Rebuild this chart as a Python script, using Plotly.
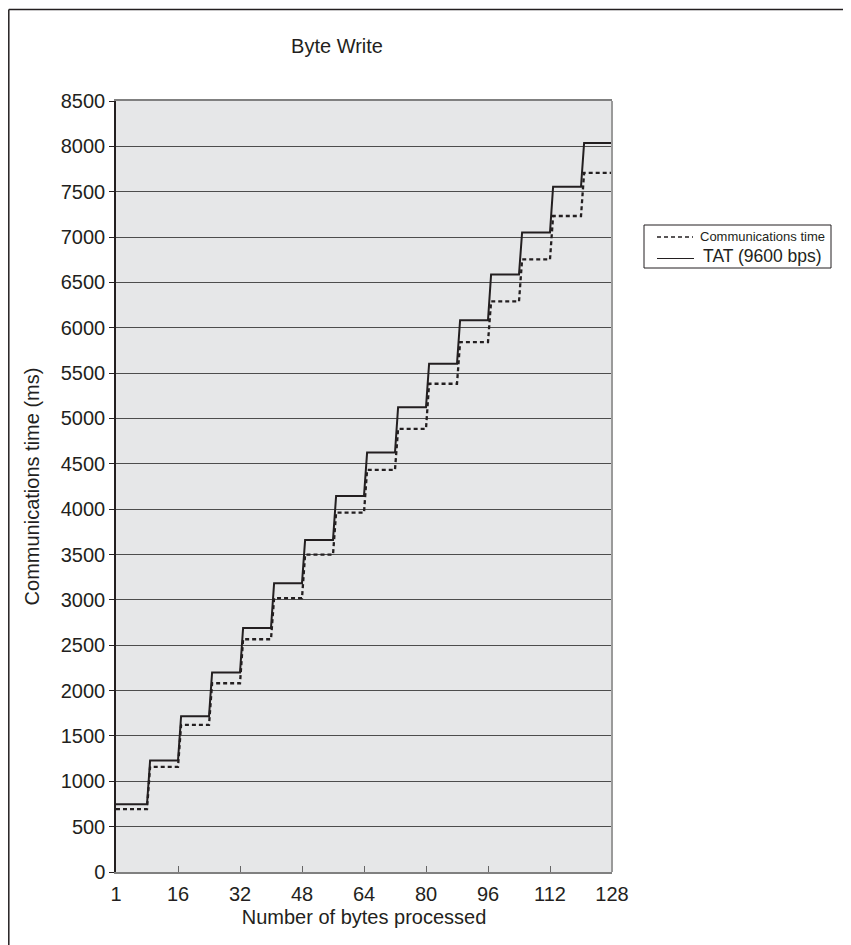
import plotly.graph_objects as go

# ---- data ----
step_edges = [0, 8, 16, 24, 32, 40, 48, 56, 64, 72, 80, 88, 96, 104, 112, 120, 128]
tat_ms = [746, 1228, 1717, 2199, 2691, 3184, 3661, 4146, 4624, 5125, 5604, 6084, 6588, 7051, 7555, 8037]
comm_ms = [694, 1160, 1621, 2081, 2566, 3019, 3499, 3961, 4433, 4886, 5383, 5842, 6290, 6753, 7232, 7707]
x_tick_vals = [0, 16, 32, 48, 64, 80, 96, 112, 128]
x_tick_text = ["1", "16", "32", "48", "64", "80", "96", "112", "128"]
y_tick_vals = list(range(0, 8501, 500))
series_names = ["Communications time", "TAT (9600 bps)"]

RISE = 0.8  # slight slant of the risers, in bytes


def staircase(edges, levels, rise):
    xs, ys = [edges[0]], [levels[0]]
    for i in range(1, len(levels)):
        xs += [edges[i], edges[i] + rise]
        ys += [levels[i - 1], levels[i]]
    xs.append(edges[-1])
    ys.append(levels[-1])
    return xs, ys


cx, cy = staircase(step_edges, comm_ms, RISE)
tx, ty = staircase(step_edges, tat_ms, RISE)

FONT = "Liberation Sans, Arial, Helvetica, sans-serif"
INK = "#231f20"
DASH = "4px,3px"

# page offset (body margin 8px) -> figure is 843x937
W, H = 843, 937
L, T = 108, 93
PW, PH = 496, 771


def px(xp):  # page x -> paper x
    return (xp - 8 - L) / PW


def py(yp):  # page y -> paper y
    return (T + PH - (yp - 8)) / PH


fig = go.Figure()
fig.add_trace(go.Scatter(
    x=cx, y=cy, mode="lines", name=series_names[0],
    line=dict(color=INK, width=2.3, dash=DASH), hoverinfo="skip",
))
fig.add_trace(go.Scatter(
    x=tx, y=ty, mode="lines", name=series_names[1],
    line=dict(color=INK, width=2), hoverinfo="skip",
))

shapes = [
    # right edge of plot area (gray)
    dict(type="line", xref="paper", yref="paper", x0=1, x1=1, y0=0, y1=1,
         line=dict(color="#9a9a9a", width=2)),
    # outer frame: left and top edges
    dict(type="line", xref="paper", yref="paper",
         x0=px(8.8), x1=px(8.8), y0=py(9.5), y1=-0.3,
         line=dict(color=INK, width=1.5)),
    dict(type="line", xref="paper", yref="paper",
         x0=px(8.8), x1=1.8, y0=py(9.5), y1=py(9.5),
         line=dict(color=INK, width=1.5)),
    # legend box
    dict(type="rect", xref="paper", yref="paper",
         x0=px(644), x1=px(831), y0=py(268), y1=py(225),
         fillcolor="white", line=dict(color=INK, width=1)),
    # legend samples
    dict(type="line", xref="paper", yref="paper",
         x0=px(657), x1=px(693), y0=py(237), y1=py(237),
         line=dict(color=INK, width=1.6, dash="4px,3px")),
    dict(type="line", xref="paper", yref="paper",
         x0=px(657), x1=px(694), y0=py(258.5), y1=py(258.5),
         line=dict(color=INK, width=1.2)),
]

annotations = [
    dict(text=series_names[0], xref="paper", yref="paper", x=px(698), y=py(236),
         xanchor="left", yanchor="middle", showarrow=False,
         font=dict(family=FONT, size=13, color=INK)),
    dict(text=series_names[1], xref="paper", yref="paper", x=px(701), y=py(256.5),
         xanchor="left", yanchor="middle", showarrow=False,
         font=dict(family=FONT, size=17.5, color=INK)),
]

fig.update_layout(
    width=W, height=H,
    margin=dict(l=L, r=W - L - PW, t=T, b=H - T - PH),
    paper_bgcolor="white",
    plot_bgcolor="#e6e7e8",
    font=dict(family=FONT, size=20, color=INK),
    title=dict(text="Byte Write", x=px(337), xref="paper", xanchor="center",
               y=1 - 38 / H, yanchor="middle", font=dict(size=20, color=INK)),
    showlegend=False,
    xaxis=dict(
        range=[0, 128], tickvals=x_tick_vals, ticktext=x_tick_text,
        showgrid=False, zeroline=False,
        showline=True, linecolor="#808080", linewidth=2, mirror=True,
        ticks="inside", ticklen=6, tickcolor="#666", tickwidth=1,
        tickfont=dict(size=20), ticklabelstandoff=3,
        title=dict(text="Number of bytes processed", font=dict(size=20), standoff=6),
    ),
    yaxis=dict(
        range=[0, 8500], tickvals=y_tick_vals,
        showgrid=True, gridcolor="#4d4d4d", gridwidth=1,
        zeroline=False,
        showline=True, linecolor=INK, linewidth=1.5,
        ticks="outside", ticklen=5, tickcolor=INK, tickwidth=1,
        tickfont=dict(size=20),
        title=dict(text="Communications time (ms)", font=dict(size=20), standoff=16),
    ),
    shapes=shapes,
    annotations=annotations,
)

fig.write_html("out.html")
